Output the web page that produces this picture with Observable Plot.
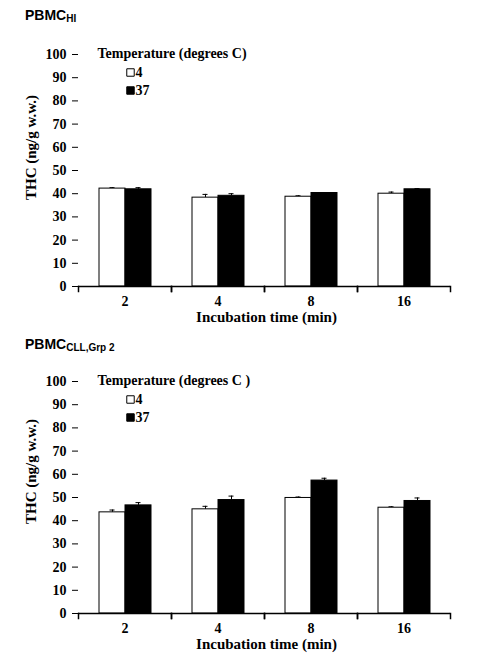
<!DOCTYPE html>
<html>
<head>
<meta charset="utf-8">
<script src="https://cdn.jsdelivr.net/npm/d3@7"></script>
<script src="https://cdn.jsdelivr.net/npm/@observablehq/plot@0.6"></script>
<style>
  body { margin: 0; background: white; width: 482px; height: 665px; position: relative; overflow: hidden; }
  .title { position: absolute; left: 25px; font: bold 14px "Liberation Sans", Arial, sans-serif; color: #000; z-index: 2; }
  .title sub { font-size: 10px; vertical-align: -2px; }
  .panel { position: absolute; left: 0; }
  .panel svg text { font-family: "Liberation Serif", "Times New Roman", serif; font-weight: bold; }
</style>
</head>
<body>
<div class="title" style="top:7px">PBMC<sub>HI</sub></div>
<div class="panel" id="p1" style="top:30px"></div>
<div class="title" style="top:336px">PBMC<sub>CLL,Grp 2</sub></div>
<div class="panel" id="p2" style="top:350px"></div>
<script>
// incubation times (min) and temperatures (degrees C)
const times = ["2", "4", "8", "16"]
const temps = ["4", "37"]

// PBMC HI
const hiMean4 = [42.2, 38.3, 38.7, 40.0]
const hiErr4 = [0.4, 1.4, 0.4, 0.7]
const hiMean37 = [41.9, 39.1, 40.3, 41.9]
const hiErr37 = [0.7, 0.9, 0.2, 0.3]

// PBMC CLL, Grp 2
const cllMean4 = [43.6, 44.9, 49.8, 45.6]
const cllErr4 = [1.0, 1.3, 0.4, 0.4]
const cllMean37 = [46.6, 48.9, 57.3, 48.5]
const cllErr37 = [1.2, 1.7, 1.0, 1.3]

const yTicks = [0, 10, 20, 30, 40, 50, 60, 70, 80, 90, 100]
const yLabel = "THC (ng/g w.w.)"
const xLabel = "Incubation time (min)"

function rows(m4, e4, m37, e37) {
  const out = []
  times.forEach((t, i) => {
    out.push({time: t, temp: "4", value: m4[i], err: m4[i] + e4[i]})
    out.push({time: t, temp: "37", value: m37[i], err: m37[i] + e37[i]})
  })
  return out
}

const serif = "'Liberation Serif', 'Times New Roman', serif"

function chart(data, {height, marginTop, marginBottom, legendTitle, yLabelDy}) {
  const inner = height - marginTop - marginBottom
  const first = () => times[0]
  return Plot.plot({
    width: 482,
    height,
    marginTop,
    marginBottom,
    marginLeft: 77,
    marginRight: 31,
    style: {fontFamily: serif, fontWeight: "bold", fontSize: "13px", color: "black", background: "none", overflow: "visible"},
    fx: {domain: times, paddingInner: 0, paddingOuter: 0, label: null},
    x: {domain: temps, paddingInner: 0, paddingOuter: 0.75, axis: null},
    y: {domain: [0, 100], axis: null},
    color: {domain: temps, range: ["white", "black"]},
    marks: [
      Plot.axisY({ticks: yTicks, tickSize: 6, tickPadding: 6, label: null, fontSize: 14, fontWeight: "bold", fontFamily: serif}),
      Plot.axisFx({anchor: "bottom", tickSize: 0, tickPadding: 10, label: null, fontSize: 14, fontWeight: "bold", fontFamily: serif}),
      // error bars (upper only)
      Plot.ruleX(data, {fx: "time", x: "temp", y1: "value", y2: "err", stroke: "black", strokeWidth: 1}),
      Plot.tickY(data, {fx: "time", x: "temp", y: "err", stroke: "black", strokeWidth: 1, insetLeft: 10.5, insetRight: 10.5}),
      Plot.barY(data, {fx: "time", x: "temp", y: "value", fill: "temp", stroke: "black", strokeWidth: 1}),
      // axis lines and boundary ticks
      Plot.ruleY([0], {stroke: "black", strokeWidth: 1.5}),
      Plot.frame({anchor: "left", insetTop: inner, insetBottom: -5, stroke: "black", strokeWidth: 1.5}),
      Plot.frame({anchor: "right", insetTop: inner, insetBottom: -5, stroke: "black", strokeWidth: 1.5}),
      Plot.axisY({ticks: [], tickSize: 0, label: null, anchor: "left", line: true}),
      Plot.text([yLabel], {fx: first, text: d => d, frameAnchor: "left", textAnchor: "middle", lineAnchor: "middle", rotate: -90, dx: -47, dy: yLabelDy, fontSize: 15, fontWeight: "bold", fontFamily: serif}),
      Plot.text([xLabel], {fx: () => times[1], text: d => d, frameAnchor: "bottom-right", textAnchor: "middle", dx: 2, dy: 35, fontSize: 15, fontWeight: "bold", fontFamily: serif}),
      // legend
      Plot.text([legendTitle], {fx: first, text: d => d, frameAnchor: "top-left", textAnchor: "start", dx: 19, dy: 3, lineAnchor: "bottom", fontSize: 14, fontWeight: "bold", fontFamily: serif}),
      Plot.dot([temps[0]], {fx: first, frameAnchor: "top-left", dx: 52, dy: 18, symbol: "square", r: 4.2, fill: "white", stroke: "black", strokeWidth: 1}),
      Plot.dot([temps[1]], {fx: first, frameAnchor: "top-left", dx: 52, dy: 36, symbol: "square", r: 4.2, fill: "black", stroke: "black", strokeWidth: 1}),
      Plot.text([temps[0]], {fx: first, text: d => d, frameAnchor: "top-left", textAnchor: "start", lineAnchor: "middle", dx: 57, dy: 18, fontSize: 14, fontWeight: "bold", fontFamily: serif}),
      Plot.text([temps[1]], {fx: first, text: d => d, frameAnchor: "top-left", textAnchor: "start", lineAnchor: "middle", dx: 57, dy: 36, fontSize: 14, fontWeight: "bold", fontFamily: serif})
    ]
  })
}

document.getElementById("p1").append(chart(rows(hiMean4, hiErr4, hiMean37, hiErr37), {
  height: 300, marginTop: 24, marginBottom: 44, legendTitle: "Temperature (degrees C)", yLabelDy: -23
}))
document.getElementById("p2").append(chart(rows(cllMean4, cllErr4, cllMean37, cllErr37), {
  height: 315, marginTop: 31, marginBottom: 52, legendTitle: "Temperature (degrees C )", yLabelDy: -26
}))
</script>
</body>
</html>
